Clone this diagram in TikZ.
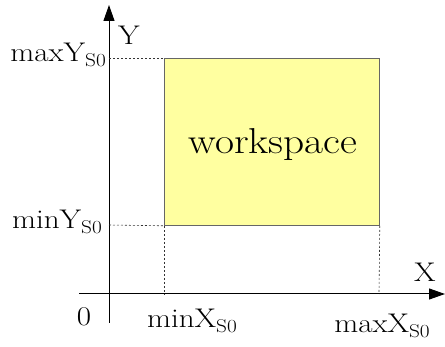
\documentclass[tikz,border=0pt]{standalone}
\usepackage{fontspec}
\setmainfont{Latin Modern Roman}[FakeStretch=1.15]
\usetikzlibrary{arrows.meta}
\definecolor{wsyellow}{RGB}{255,255,160}
\newcommand{\sub}[1]{\raisebox{-5pt}{\fontsize{18.5}{20}\selectfont #1}}
\begin{document}
\begin{tikzpicture}[x=1pt,y=-1pt,
  lbl/.style={inner sep=0pt,font=\fontsize{27}{30}\selectfont},
  axis/.style={line width=1pt,-{Triangle[length=16pt,width=11pt]}},
  guide/.style={line width=0.6pt,dash pattern=on 2pt off 2pt,black!80}]
\useasboundingbox (0,0) rectangle (445,347);
% workspace rectangle
\node[draw=black!60,line width=0.8pt,fill=wsyellow,minimum width=215pt,minimum height=167pt,inner sep=0pt,anchor=north west] (ws) at (164,58) {};
\node[lbl,font=\fontsize{36}{40}\selectfont,anchor=base] (wst) at (273,154) {workspace};
% axes
\coordinate (yb) at (109,323);
\coordinate (yt) at (109,5);
\coordinate (xl) at (79,294);
\coordinate (xr) at (445,294);
\draw[axis] (yb) -- (yt);
\draw[axis] (xl) -- (xr);
% guide lines
\coordinate (ymax) at (109,58);
\coordinate (ymin) at (109,225);
\coordinate (xmin) at (164,294);
\coordinate (xmax) at (379,294);
\draw[guide] (ymax) -- (ws.north west);
\draw[guide] (ymin) -- (ws.south west);
\draw[guide] (ws.south west) -- (xmin);
\draw[guide] (ws.south east) -- (xmax);
% labels
\node[lbl,anchor=base east] (lmaxy) at (106,62) {maxY\sub{S0}};
\node[lbl,anchor=base east] (lminy) at (102,229) {minY\sub{S0}};
\node[lbl,anchor=base] (lY) at (129,45) {Y};
\node[lbl,anchor=base] (lX) at (425,282) {X};
\node[lbl,anchor=base] (l0) at (84,326) {0};
\node[lbl,anchor=base] (lminx) at (192,328) {minX\sub{S0}};
\node[lbl,anchor=base] (lmaxx) at (382,333) {maxX\sub{S0}};
\end{tikzpicture}
\end{document}
